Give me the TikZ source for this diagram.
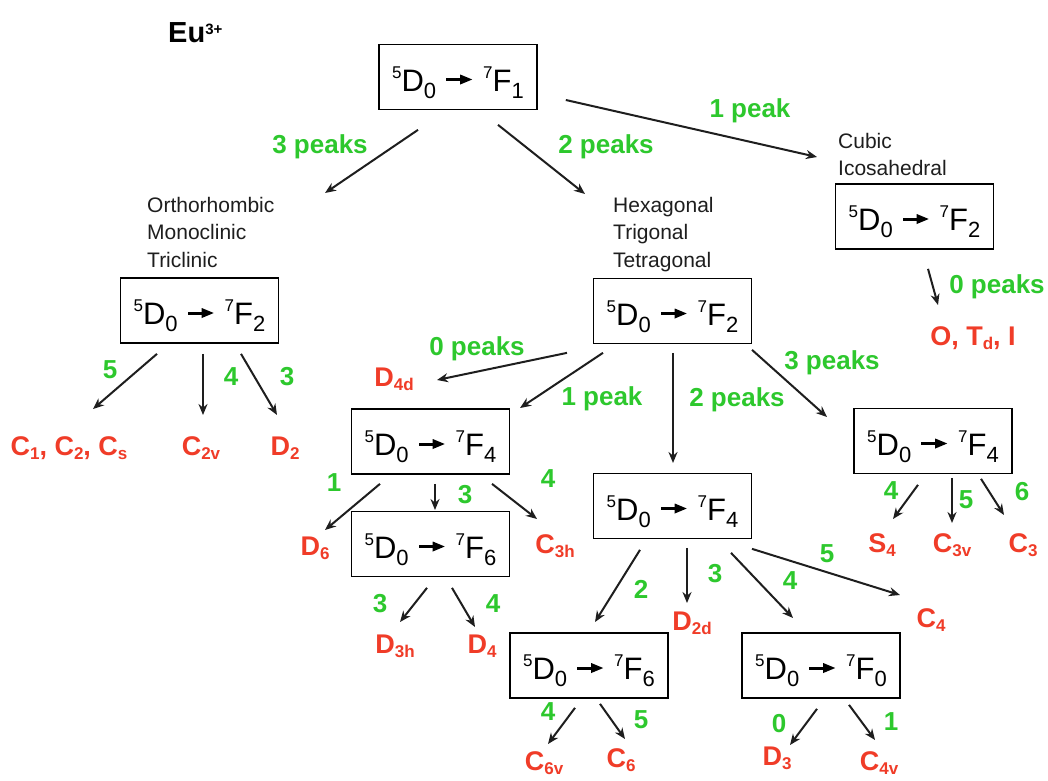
\documentclass[tikz,border=0pt]{standalone}
\usepackage{fontspec}
\setmainfont{Liberation Sans}
\usetikzlibrary{arrows.meta,calc}

\definecolor{pkgreen}{RGB}{45,200,45}
\definecolor{grpred}{RGB}{240,60,40}
\definecolor{inkgray}{RGB}{30,30,30}

% short bold arrow used inside the transition labels
\newcommand\trarrow{\raisebox{6.5pt}{\tikz[x=1pt,y=1pt]{%
  \useasboundingbox (0,-5) rectangle (26,5);
  \fill (0,-1.5) rectangle (16,1.5);
  \fill (14,-5) -- (26,0) -- (14,5) -- cycle;}}}
% 5D0 -> 7Fn
\newcommand\trans[1]{{\fontsize{31}{31}\selectfont
  \raisebox{13pt}{\fontsize{17}{17}\selectfont 5}D\raisebox{-7pt}{\fontsize{22}{22}\selectfont 0}%
  \hspace{10pt}\trarrow\hspace{11pt}%
  \raisebox{13pt}{\fontsize{17}{17}\selectfont 7}F\raisebox{-7pt}{\fontsize{22}{22}\selectfont #1}}}
% subscript of a point-group symbol
\newcommand\gsub[1]{\raisebox{-4pt}{\fontsize{17}{17}\selectfont #1}}

\tikzset{
  transbox/.style={draw=black, line width=1.7pt, minimum width=158pt, minimum height=65pt,
    inner sep=0pt, text height=28pt, text depth=0pt},
  grp/.style={text=grpred, font=\bfseries\fontsize{27}{27}\selectfont, anchor=base, inner sep=0pt},
  pk/.style={text=pkgreen, font=\bfseries\fontsize{26}{26}\selectfont, anchor=base, inner sep=0pt},
  sysname/.style={text=inkgray, font=\fontsize{21}{27.5}\selectfont, align=left, anchor=north west, inner sep=0pt},
  link/.style={draw=inkgray, line width=2pt, -{Stealth[length=11pt,width=9pt]}},
}

\begin{document}
\begin{tikzpicture}[x=1pt,y=-1pt]
\useasboundingbox (0,0) rectangle (1048,780);
\fill[white] (0,0) rectangle (1048,780);

% title
\node[anchor=base west, inner sep=0pt, font=\bfseries\fontsize{29}{29}\selectfont] (ion) at (168,42)
  {Eu\raisebox{8pt}{\fontsize{15}{15}\selectfont 3+}};

% transition boxes
\node[transbox] (f1)     at (458,77)    {\trans{1}};
\node[transbox] (cubF2)  at (914.5,216.5) {\trans{2}};
\node[transbox] (hexF2)  at (672.5,311) {\trans{2}};
\node[transbox] (ortF2)  at (199.5,310.5) {\trans{2}};
\node[transbox] (hexF4a) at (430.5,441.5) {\trans{4}};
\node[transbox] (hexF6a) at (430.5,544) {\trans{6}};
\node[transbox] (hexF4b) at (672.5,506) {\trans{4}};
\node[transbox] (hexF6b) at (589,665.5) {\trans{6}};
\node[transbox] (hexF0)  at (821,665.5) {\trans{0}};
\node[transbox] (hexF4c) at (933,441)   {\trans{4}};

% crystal systems
\node[sysname] (ortsys) at (147,197) {Orthorhombic\\Monoclinic\\Triclinic};
\node[sysname] (hexsys) at (613,197) {Hexagonal\\Trigonal\\Tetragonal};
\node[sysname] (cubsys) at (838,133) {Cubic\\Icosahedral};

% peak counts
\node[pk] (pk3)  at (320,153) {3 peaks};
\node[pk] (pk2)  at (606,153) {2 peaks};
\node[pk] (pk1)  at (750,117) {1 peak};
\node[pk] (pk0c) at (997,293) {0 peaks};
\node[pk] (pk0h) at (477,355) {0 peaks};
\node[pk] (pk1h) at (602,405) {1 peak};
\node[pk] (pk2h) at (737,406) {2 peaks};
\node[pk] (pk3h) at (832,369) {3 peaks};

\node[pk] (n5o) at (110,378) {5};
\node[pk] (n4o) at (231,385) {4};
\node[pk] (n3o) at (287,385) {3};
\node[pk] (n1a) at (334,491) {1};
\node[pk] (n3a) at (465,503) {3};
\node[pk] (n4a) at (548,487) {4};
\node[pk] (n3f) at (380,612) {3};
\node[pk] (n4f) at (493,612) {4};
\node[pk] (n2b) at (641,598) {2};
\node[pk] (n3b) at (715,582) {3};
\node[pk] (n4b) at (790,589) {4};
\node[pk] (n5b) at (827,562) {5};
\node[pk] (n4g) at (548,720) {4};
\node[pk] (n5g) at (641,728) {5};
\node[pk] (n0z) at (779,732) {0};
\node[pk] (n1z) at (891,730) {1};
\node[pk] (n4c) at (891,499) {4};
\node[pk] (n5c) at (966,508) {5};
\node[pk] (n6c) at (1022,500) {6};

% point groups
\node[grp] (gOTI)  at (973,345) {O, T\gsub{d}, I};
\node[grp] (gD4d)  at (394,386) {D\gsub{4d}};
\node[grp] (gC1)   at (69,455)  {C\gsub{1}, C\gsub{2}, C\gsub{s}};
\node[grp] (gC2v)  at (201,455) {C\gsub{2v}};
\node[grp] (gD2)   at (285,455) {D\gsub{2}};
\node[grp] (gD6)   at (315,555) {D\gsub{6}};
\node[grp] (gC3h)  at (555,553) {C\gsub{3h}};
\node[grp] (gD3h)  at (395,653) {D\gsub{3h}};
\node[grp] (gD4)   at (482,653) {D\gsub{4}};
\node[grp] (gD2d)  at (692,630) {D\gsub{2d}};
\node[grp] (gC4)   at (931,627) {C\gsub{4}};
\node[grp] (gC6v)  at (544,770) {C\gsub{6v}};
\node[grp] (gC6)   at (621,767) {C\gsub{6}};
\node[grp] (gD3)   at (777,765) {D\gsub{3}};
\node[grp] (gC4v)  at (879,770) {C\gsub{4v}};
\node[grp] (gS4)   at (882,552) {S\gsub{4}};
\node[grp] (gC3v)  at (952,552) {C\gsub{3v}};
\node[grp] (gC3)   at (1023,552) {C\gsub{3}};

% arrow tips
\coordinate (toOrt)  at (325,193);
\coordinate (toHex)  at (585,194);
\coordinate (toCub)  at (817,157);
\coordinate (toOTI)  at (938,305);
\coordinate (toC1)   at (93,409);
\coordinate (toC2v)  at (203,415);
\coordinate (toD2)   at (277,415);
\coordinate (toD4d)  at (437,380);
\coordinate (toF4a)  at (520,408);
\coordinate (toF4b)  at (673,463);
\coordinate (toF4c)  at (827,417);
\coordinate (toD6)   at (325,530);
\coordinate (toF6a)  at (435,510);
\coordinate (toC3h)  at (537,519);
\coordinate (toD3h)  at (400,622);
\coordinate (toD4)   at (475,627);
\coordinate (toF6b)  at (595,622);
\coordinate (toD2d)  at (687,603);
\coordinate (toF0)   at (793,618);
\coordinate (toC4)   at (900,595);
\coordinate (toC6v)  at (548,744);
\coordinate (toC6)   at (625,739);
\coordinate (toD3)   at (790,745);
\coordinate (toC4v)  at (875,740);
\coordinate (toS4)   at (893,519);
\coordinate (toC3v)  at (952,523);
\coordinate (toC3)   at (1004,515);

% connectors
\draw[link] ($(f1.south)+(-40,19.5)$) -- (toOrt);
\draw[link] ($(f1.south)+(40,14.5)$) -- (toHex);
\draw[link] ($(f1.east)+(28,23)$) -- (toCub);
\draw[link] ($(cubF2.south)+(13.5,19)$) -- (toOTI);

\draw[link] ($(ortF2.south)+(-42.5,10)$) -- (toC1);
\draw[link] ($(ortF2.south)+(3.5,10)$) -- (toC2v);
\draw[link] ($(ortF2.south)+(41.5,10)$) -- (toD2);

\draw[link] ($(hexF2.south)+(-105.5,8.5)$) -- (toD4d);
\draw[link] ($(hexF2.south)+(-69.5,8.5)$) -- (toF4a);
\draw[link] ($(hexF2.south)+(0.5,8.5)$) -- (toF4b);
\draw[link] ($(hexF2.south)+(79.5,5.5)$) -- (toF4c);

\draw[link] ($(hexF4a.south)+(-50.5,9)$) -- (toD6);
\draw[link] ($(hexF4a.south)+(4.5,9)$) -- (toF6a);
\draw[link] ($(hexF4a.south)+(61.5,9)$) -- (toC3h);

\draw[link] ($(hexF6a.south)+(-3.5,10.5)$) -- (toD3h);
\draw[link] ($(hexF6a.south)+(21.5,10.5)$) -- (toD4);

\draw[link] ($(hexF4b.south)+(-32.5,10.5)$) -- (toF6b);
\draw[link] ($(hexF4b.south)+(14.5,8.5)$) -- (toD2d);
\draw[link] ($(hexF4b.south)+(58.5,13.5)$) -- (toF0);
\draw[link] ($(hexF4b.south)+(79.5,9.5)$) -- (toC4);

\draw[link] ($(hexF6b.south)+(-14,9)$) -- (toC6v);
\draw[link] ($(hexF6b.south)+(11,5)$) -- (toC6);
\draw[link] ($(hexF0.south)+(-4,10)$) -- (toD3);
\draw[link] ($(hexF0.south)+(28,6)$) -- (toC4v);

\draw[link] ($(hexF4c.south)+(-15,10.5)$) -- (toS4);
\draw[link] ($(hexF4c.south)+(19,3.5)$) -- (toC3v);
\draw[link] ($(hexF4c.south)+(48,4.5)$) -- (toC3);
\end{tikzpicture}
\end{document}
